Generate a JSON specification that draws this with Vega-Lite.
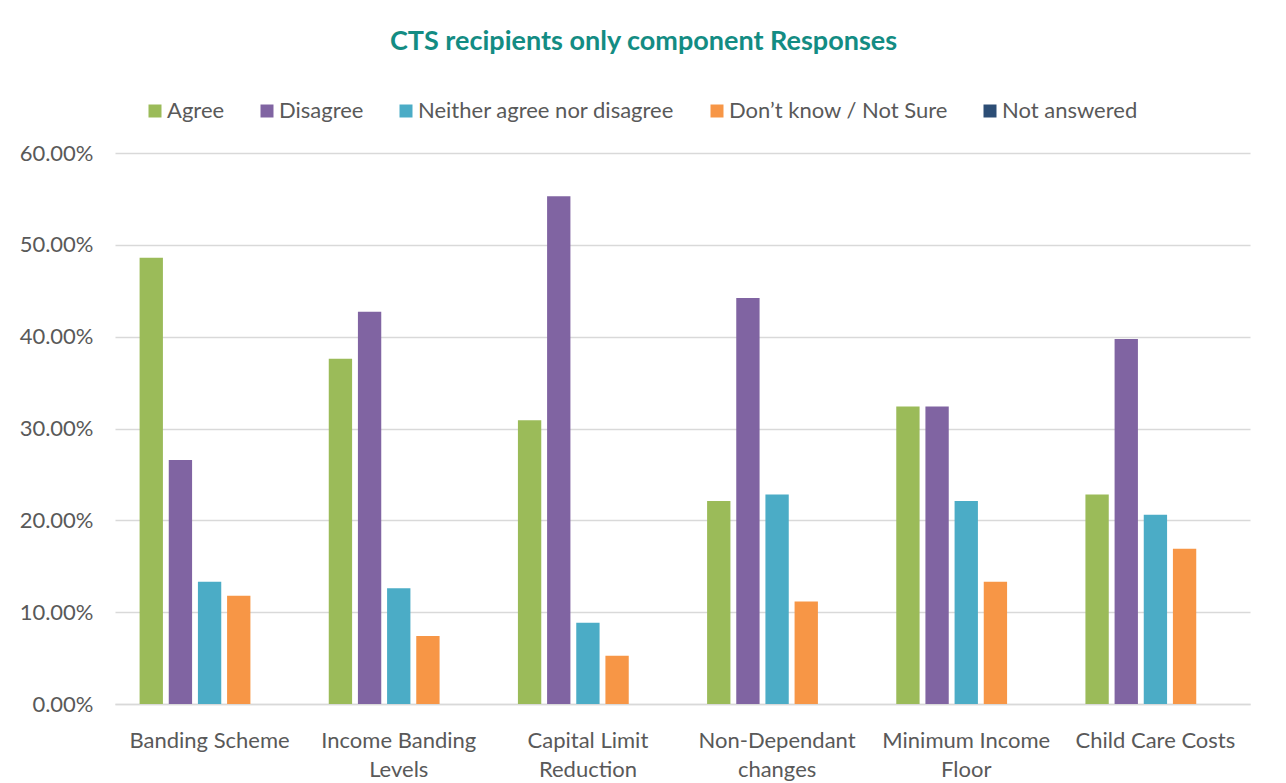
{
  "$schema": "https://vega.github.io/schema/vega-lite/v6.json",
  "width": 1135,
  "height": 551,
  "autosize": {"type": "none"},
  "padding": {"left": 115, "top": 153, "right": 36, "bottom": 79},
  "background": "white",
  "title": {
    "text": "CTS recipients only component Responses",
    "anchor": "middle",
    "frame": "group",
    "orient": "top",
    "offset": 44,
    "dx": -39,
    "font": "Lato",
    "fontSize": 27,
    "fontWeight": "bold",
    "color": "#138C83"
  },
  "data": {
    "values": [
      {"component": "Banding Scheme", "response": "Agree", "pct": 0.486},
      {"component": "Banding Scheme", "response": "Disagree", "pct": 0.2657},
      {"component": "Banding Scheme", "response": "Neither agree nor disagree", "pct": 0.133},
      {"component": "Banding Scheme", "response": "Don’t know / Not Sure", "pct": 0.118},
      {"component": "Banding Scheme", "response": "Not answered", "pct": 0},
      {"component": "Income Banding Levels", "response": "Agree", "pct": 0.376},
      {"component": "Income Banding Levels", "response": "Disagree", "pct": 0.427},
      {"component": "Income Banding Levels", "response": "Neither agree nor disagree", "pct": 0.126},
      {"component": "Income Banding Levels", "response": "Don’t know / Not Sure", "pct": 0.074},
      {"component": "Income Banding Levels", "response": "Not answered", "pct": 0},
      {"component": "Capital Limit Reduction", "response": "Agree", "pct": 0.309},
      {"component": "Capital Limit Reduction", "response": "Disagree", "pct": 0.553},
      {"component": "Capital Limit Reduction", "response": "Neither agree nor disagree", "pct": 0.0885},
      {"component": "Capital Limit Reduction", "response": "Don’t know / Not Sure", "pct": 0.0525},
      {"component": "Capital Limit Reduction", "response": "Not answered", "pct": 0},
      {"component": "Non-Dependant changes", "response": "Agree", "pct": 0.221},
      {"component": "Non-Dependant changes", "response": "Disagree", "pct": 0.442},
      {"component": "Non-Dependant changes", "response": "Neither agree nor disagree", "pct": 0.228},
      {"component": "Non-Dependant changes", "response": "Don’t know / Not Sure", "pct": 0.1115},
      {"component": "Non-Dependant changes", "response": "Not answered", "pct": 0},
      {"component": "Minimum Income Floor", "response": "Agree", "pct": 0.324},
      {"component": "Minimum Income Floor", "response": "Disagree", "pct": 0.324},
      {"component": "Minimum Income Floor", "response": "Neither agree nor disagree", "pct": 0.221},
      {"component": "Minimum Income Floor", "response": "Don’t know / Not Sure", "pct": 0.133},
      {"component": "Minimum Income Floor", "response": "Not answered", "pct": 0},
      {"component": "Child Care Costs", "response": "Agree", "pct": 0.228},
      {"component": "Child Care Costs", "response": "Disagree", "pct": 0.3975},
      {"component": "Child Care Costs", "response": "Neither agree nor disagree", "pct": 0.206},
      {"component": "Child Care Costs", "response": "Don’t know / Not Sure", "pct": 0.169},
      {"component": "Child Care Costs", "response": "Not answered", "pct": 0}
    ]
  },
  "mark": {"type": "bar"},
  "encoding": {
    "x": {
      "field": "component",
      "type": "nominal",
      "sort": null,
      "scale": {"paddingInner": 0.26, "paddingOuter": 0.13},
      "axis": {
        "title": null,
        "labelAngle": 0,
        "ticks": false,
        "domain": true,
        "domainColor": "#D9D9D9",
        "domainWidth": 1.5,
        "labelFont": "Lato",
        "labelFontSize": 22,
        "labelColor": "#595959",
        "labelPadding": 26,
        "labelBaseline": "top",
        "labelLineHeight": 29,
        "labelLimit": 0,
        "labelOverlap": false,
        "labelExpr": "datum.value == 'Income Banding Levels' ? ['Income Banding', 'Levels'] : datum.value == 'Capital Limit Reduction' ? ['Capital Limit', 'Reduction'] : datum.value == 'Non-Dependant changes' ? ['Non-Dependant', 'changes'] : datum.value == 'Minimum Income Floor' ? ['Minimum Income', 'Floor'] : datum.label"
      }
    },
    "xOffset": {
      "field": "response",
      "type": "nominal",
      "sort": ["Agree", "Disagree", "Neither agree nor disagree", "Don’t know / Not Sure", "Not answered"],
      "scale": {"paddingInner": 0.2, "paddingOuter": 0}
    },
    "y": {
      "field": "pct",
      "type": "quantitative",
      "scale": {"domain": [0, 0.6], "nice": false},
      "axis": {
        "title": null,
        "format": ".2%",
        "values": [0, 0.1, 0.2, 0.3, 0.4, 0.5, 0.6],
        "domain": false,
        "ticks": false,
        "grid": true,
        "gridColor": "#D9D9D9",
        "gridWidth": 1.5,
        "labelFont": "Lato",
        "labelFontSize": 22,
        "labelColor": "#595959",
        "labelPadding": 22,
        "labelOverlap": false
      }
    },
    "color": {
      "field": "response",
      "type": "nominal",
      "sort": ["Agree", "Disagree", "Neither agree nor disagree", "Don’t know / Not Sure", "Not answered"],
      "scale": {
        "domain": ["Agree", "Disagree", "Neither agree nor disagree", "Don’t know / Not Sure", "Not answered"],
        "range": ["#9BBB59", "#8064A2", "#4BACC6", "#F79646", "#2C4D75"]
      },
      "legend": {
        "title": null,
        "orient": "none",
        "legendX": 29,
        "legendY": -53,
        "direction": "horizontal",
        "columns": 5,
        "columnPadding": 31,
        "padding": 0,
        "symbolType": "square",
        "symbolSize": 169,
        "symbolStrokeWidth": 0,
        "symbolOpacity": 1,
        "labelFont": "Lato",
        "labelFontSize": 22,
        "labelColor": "#595959",
        "labelOffset": 1,
        "labelLimit": 0
      }
    }
  },
  "config": {
    "view": {"stroke": null},
    "axis": {"gridDash": [], "domainDash": []}
  }
}
